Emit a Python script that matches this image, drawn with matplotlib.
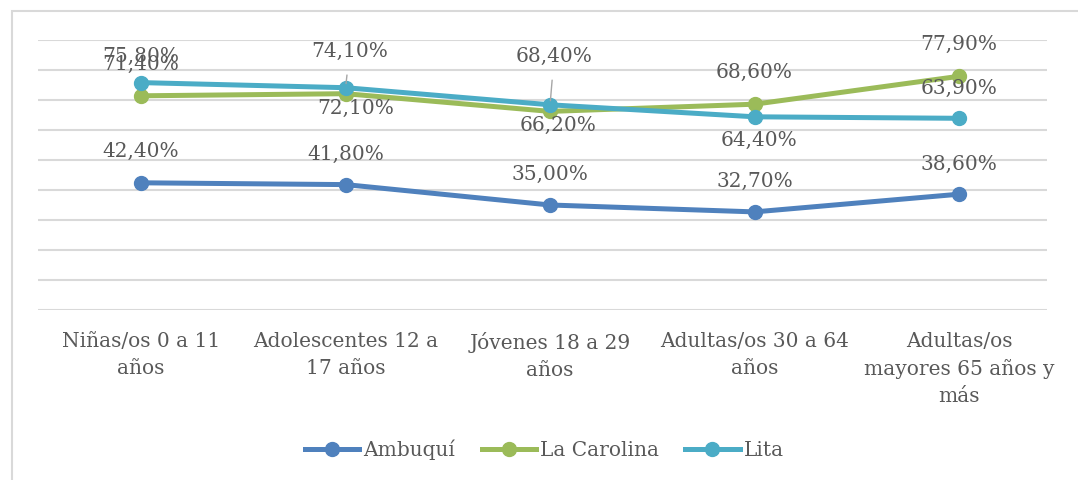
import matplotlib.pyplot as plt
from matplotlib.lines import Line2D
from matplotlib.patches import Rectangle

# Data
categories = ['Niñas/os 0 a 11\naños', 'Adolescentes 12 a\n17 años', 'Jóvenes 18 a 29\naños',
              'Adultas/os 30 a 64\naños', 'Adultas/os\nmayores 65 años y\nmás']
ambuqui = [42.4, 41.8, 35.0, 32.7, 38.6]
la_carolina = [71.4, 72.1, 66.2, 68.6, 77.9]
lita = [75.8, 74.1, 68.4, 64.4, 63.9]

series = [('Ambuquí', ambuqui, '#4F81BD'),
          ('La Carolina', la_carolina, '#9BBB59'),
          ('Lita', lita, '#4BACC6')]

# label offsets in pixels (dx, dy) for each point, per series
offsets = {
    'Ambuquí': [(0, 31), (0, 30), (0, 31), (0, 30), (0, 30)],
    'La Carolina': [(0, 31), (10, -15), (8, -14), (0, 32), (0, 32)],
    'Lita': [(0, 26), (4, 36), (4, 48), (4, -24), (0, 30)],
}
leader = {'Lita': [1, 2]}

plt.rcParams['font.family'] = ['DejaVu Serif']
txt_color = '#595959'
fs = 14.5

fig = plt.figure(figsize=(10.78, 4.8), dpi=100)
ax = fig.add_axes([38 / 1078, 170 / 480, (1047 - 38) / 1078, 270 / 480])

x = list(range(len(categories)))
for name, vals, color in series:
    ax.plot(x, vals, color=color, lw=3.6, marker='o', markersize=10, solid_capstyle='round', zorder=3)

for name, vals, color in series:
    for i, v in enumerate(vals):
        dx, dy = offsets[name][i]
        if i in leader.get(name, []):
            ax.annotate(f'{v:.2f}%'.replace('.', ','), (i, v), xytext=(dx, dy),
                        textcoords='offset pixels', ha='center', va='center',
                        fontsize=fs, color=txt_color, zorder=4,
                        arrowprops=dict(arrowstyle='-', color='#A6A6A6', lw=1,
                                        shrinkA=8, shrinkB=3))
        else:
            ax.annotate(f'{v:.2f}%'.replace('.', ','), (i, v), xytext=(dx, dy),
                        textcoords='offset pixels', ha='center', va='center',
                        fontsize=fs, color=txt_color, zorder=4)

ax.set_ylim(0, 90)
ax.set_yticks(range(0, 91, 10))
ax.set_yticklabels([])
ax.set_xlim(-0.504, 4.43)
ax.set_xticks(x)
ax.set_xticklabels(categories, fontsize=fs, color=txt_color, linespacing=1.5)
ax.tick_params(axis='both', length=0)
ax.tick_params(axis='x', pad=16)
ax.grid(axis='y', color='#D9D9D9', lw=1.5)
ax.set_axisbelow(True)
for s in ax.spines.values():
    s.set_visible(False)

handles = [Line2D([0], [0], color=c, lw=3.6, marker='o', markersize=10) for _, _, c in series]
fig.legend(handles, [n for n, _, _ in series], loc='center', bbox_to_anchor=(0.505, 30 / 480),
           ncol=3, frameon=False, fontsize=fs, handlelength=2.7, handletextpad=0.2,
           columnspacing=1.3, labelcolor=txt_color)

# outer chart frame
fig.patches.append(Rectangle((12 / 1078, -0.1), 1.2, (480 - 11) / 480 + 0.1,
                             transform=fig.transFigure, fill=False, ec='#D9D9D9', lw=1.5))

plt.savefig('out.png', dpi=100)
